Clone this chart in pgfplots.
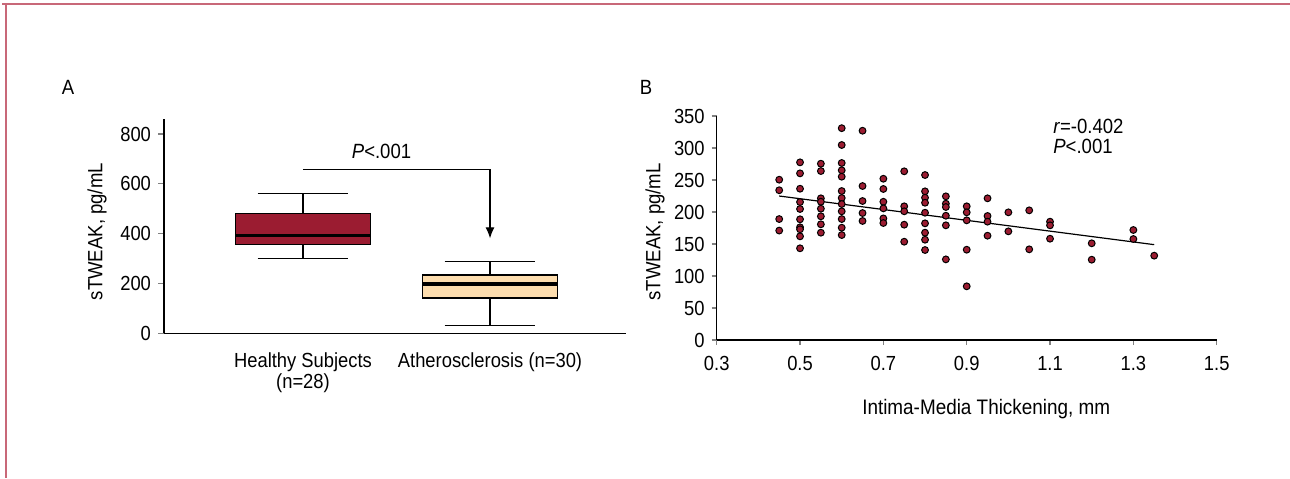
\documentclass[border=0pt]{standalone}
\usepackage{fontspec}
\setmainfont{Liberation Sans}[FakeStretch=0.9]
\usepackage{pgfplots}
\pgfplotsset{compat=1.18}
\usetikzlibrary{arrows.meta}
\definecolor{hred}{HTML}{9B1C31}
\definecolor{apeach}{HTML}{FDDDAE}
\definecolor{framepink}{HTML}{C86878}
\pgfplotsset{
  /pgf/number format/assume math mode=true,
  every axis/.append style={font=\fontsize{10.3}{12}\selectfont},
  every tick label/.append style={font=\fontsize{10.2}{12}\selectfont},
}
\begin{document}
\begin{tikzpicture}
\path[use as bounding box] (0,0) rectangle (645pt,-239pt);
\draw[framepink, line width=1pt] (1pt,-2.15pt) -- (645pt,-2.15pt);
\draw[framepink, line width=1pt] (2.9pt,-2.15pt) -- (2.9pt,-239pt);
\node[font=\fontsize{10.3}{12}\selectfont] at (34pt,-43.5pt) {A};
\node[font=\fontsize{10.3}{12}\selectfont] at (323pt,-43.5pt) {B};

% Panel A
\begin{axis}[
  at={(82pt,-166.65pt)}, anchor=south west,
  scale only axis, width=231pt, height=107pt,
  xmin=0.257, xmax=2.727, ymin=0, ymax=859,
  axis x line=bottom, axis y line=left, axis line style={-, line width=0.6pt},
  tick align=outside, major tick length=3pt,
  ytick={0,200,400,600,800},
  xtick={1,2}, xtick style={draw=none},
  xticklabels={Healthy Subjects\\(n=28), Atherosclerosis (n=30)},
  xticklabel style={align=center, font=\fontsize{10.2}{10.5}\selectfont, yshift=-3pt},
  ytick style={line width=0.6pt},
  ylabel={sTWEAK, pg/mL},
  every axis y label/.style={at={(axis description cs:-0.145,0.475)}, rotate=90, anchor=center},
  clip=false,
]
% Healthy subjects: whiskers, box, median
\addplot[black, line width=0.6pt] coordinates {(1,481) (1,560)};
\addplot[black, line width=0.6pt] coordinates {(0.757,560) (1.243,560)};
\addplot[black, line width=0.6pt] coordinates {(1,356) (1,299)};
\addplot[black, line width=0.6pt] coordinates {(0.757,299) (1.243,299)};
\addplot[draw=black, fill=hred, line width=0.7pt, line join=miter] coordinates {(0.638,356) (1.362,356) (1.362,481) (0.638,481) (0.638,356)};
\addplot[black, line width=1.6pt] coordinates {(0.638,394) (1.362,394)};
% Atherosclerosis
\addplot[black, line width=0.6pt] coordinates {(2,234) (2,287)};
\addplot[black, line width=0.6pt] coordinates {(1.757,287) (2.243,287)};
\addplot[black, line width=0.6pt] coordinates {(2,142) (2,31.5)};
\addplot[black, line width=0.6pt] coordinates {(1.757,31.5) (2.243,31.5)};
\addplot[draw=black, fill=apeach, line width=0.7pt, line join=miter] coordinates {(1.638,142) (2.362,142) (2.362,234) (1.638,234) (1.638,142)};
\addplot[black, line width=1.6pt] coordinates {(1.638,198) (2.362,198)};
% significance arrow
\addplot[black, line width=0.6pt, -{Latex[length=5.5pt,width=4.5pt]}] coordinates {(1,656.5) (2,656.5) (2,381)};
\node at (axis cs:1.42,731) {\textit{P}<.001};
\end{axis}

% Panel B
\begin{axis}[
  at={(358.35pt,-170pt)}, anchor=south west,
  scale only axis, width=250pt, height=112pt,
  xmin=0.3, xmax=1.5, ymin=0, ymax=350,
  axis x line=bottom, axis y line=left, axis line style={-, line width=0.6pt},
  tick align=outside, major tick length=2.5pt,
  tick style={line width=0.6pt},
  ytick={0,50,100,150,200,250,300,350},
  xtick={0.3,0.5,0.7,0.9,1.1,1.3,1.5},
  xticklabels={0.3,0.5,0.7,0.9,1.1,1.3,1.5},
  xticklabel style={yshift=-2pt},
  ylabel={sTWEAK, pg/mL},
  every axis y label/.style={at={(axis description cs:-0.1234,0.483)}, rotate=90, anchor=center},
  xlabel={Intima-Media Thickening, mm},
  every axis x label/.style={at={(axis description cs:0.539,-0.308)}, anchor=center, font=\fontsize{10.5}{12}\selectfont},
  clip=false,
]
\addplot[only marks, mark=*, mark size=1.7pt, mark options={fill=hred, draw=black, line width=0.5pt}] table {
x y
0.45 250.5
0.45 234
0.45 189
0.45 171
0.5 277.6
0.5 260.4
0.5 236.4
0.5 215.6
0.5 204.7
0.5 188.6
0.5 176.1
0.5 173
0.5 162
0.5 143.3
0.55 275.5
0.55 264
0.55 221.4
0.55 216.1
0.55 205.2
0.55 193.3
0.55 180.8
0.55 167.7
0.6 331
0.6 304.7
0.6 276.6
0.6 265.2
0.6 255.2
0.6 232.8
0.6 221.9
0.6 212.5
0.6 201.1
0.6 189
0.6 175.5
0.6 164
0.65 327
0.65 240.6
0.65 217.2
0.65 198.4
0.65 186
0.7 252
0.7 236
0.7 216
0.7 205.7
0.7 190
0.7 182.8
0.75 263.6
0.75 208.9
0.75 201.1
0.75 180.2
0.75 153.6
0.8 257.8
0.8 232.3
0.8 222.4
0.8 214.5
0.8 198.9
0.8 182.3
0.8 167.7
0.8 156.7
0.8 140.6
0.85 224.5
0.85 213
0.85 207.8
0.85 194.2
0.85 179.2
0.85 126
0.9 208.9
0.9 199.5
0.9 187
0.9 141.1
0.9 83.9
0.95 221.4
0.95 193.8
0.95 184.9
0.95 163
1.0 199.5
1.0 169.8
1.05 202.6
1.05 141.7
1.1 184.9
1.1 179.2
1.1 158.3
1.2 151.1
1.2 125.5
1.3 171.9
1.3 157.8
1.35 131.8
};
\addplot[black, line width=0.6pt] coordinates {(0.45,225) (1.35,149)};
\node[anchor=west, inner sep=0pt] at (axis cs:1.107,333) {\textit{r}=-0.402};
\node[anchor=west, inner sep=0pt] at (axis cs:1.107,302) {\textit{P}<.001};
\end{axis}
\end{tikzpicture}
\end{document}
